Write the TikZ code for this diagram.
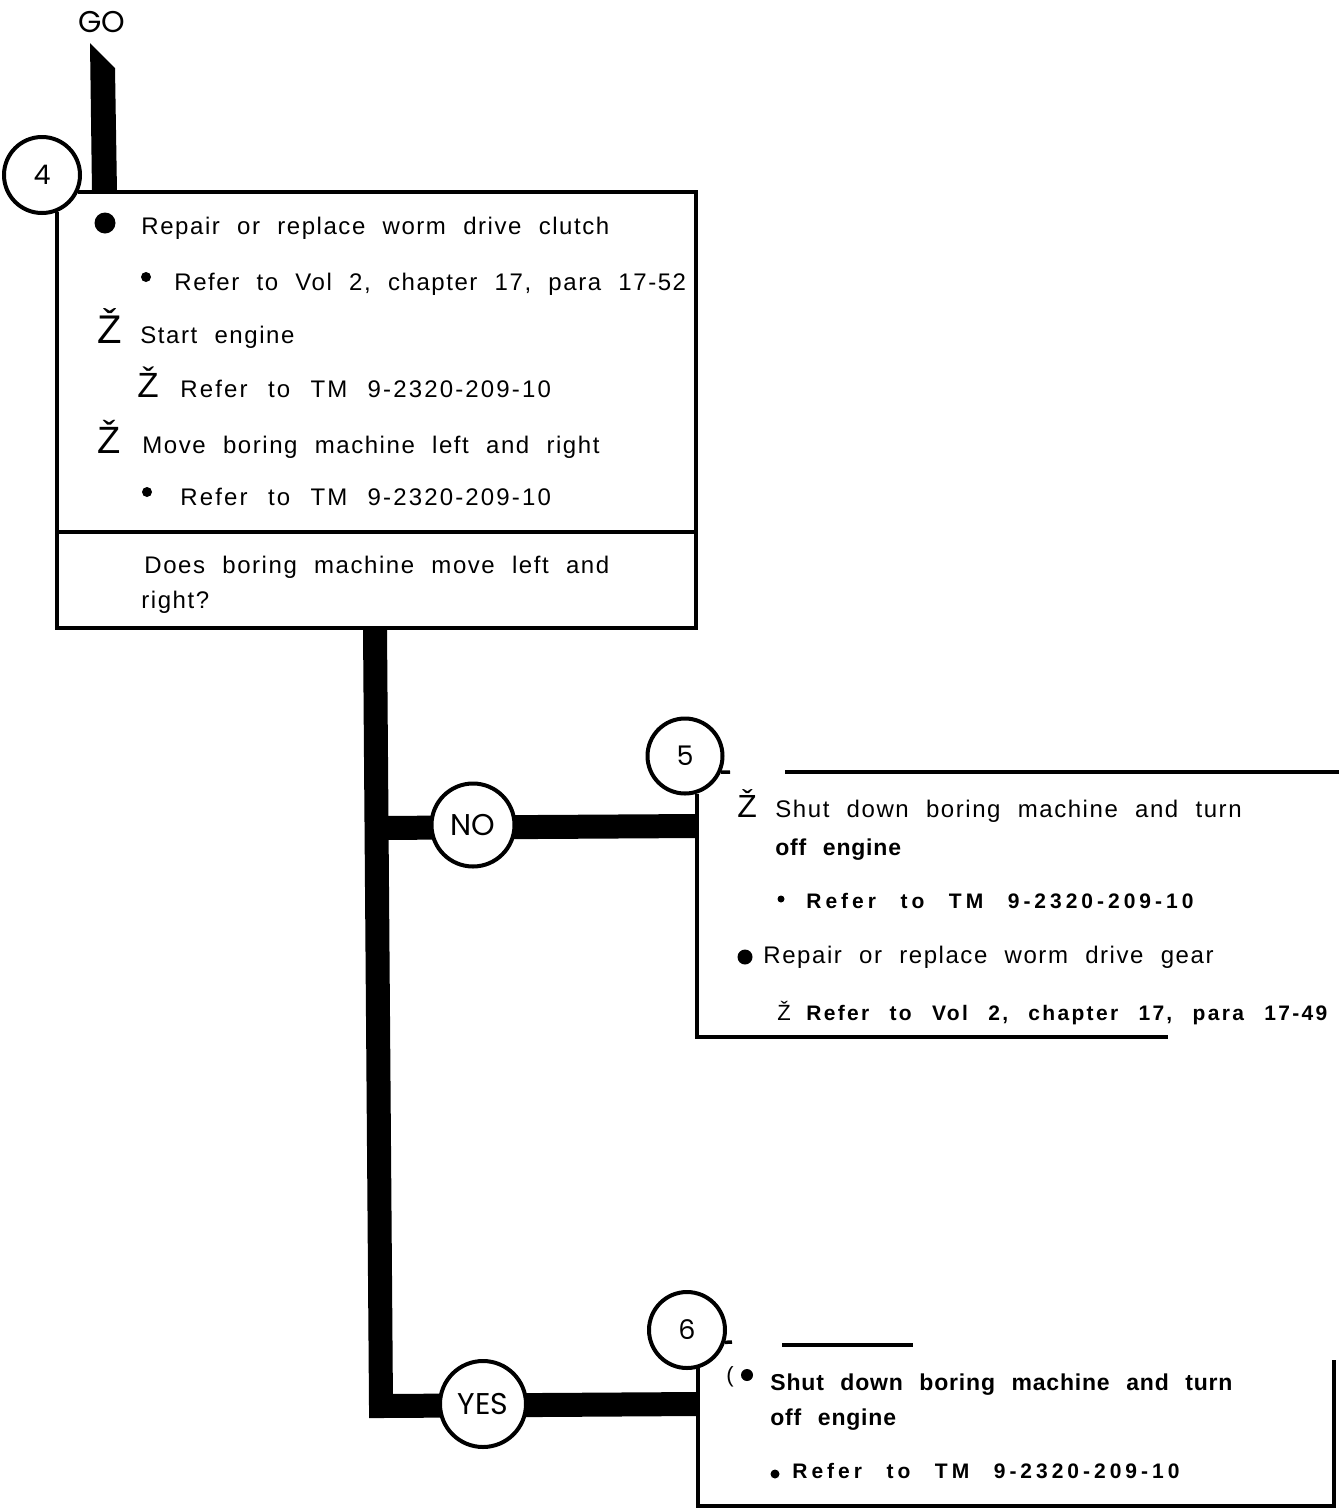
\documentclass[tikz,border=0pt]{standalone}
\usepackage{fontspec}
\setmainfont{Liberation Sans}
\newfontfamily\gofont{Poppins}
\newfontfamily\stepfont[LetterSpace=6.5,WordSpace=2.1]{Liberation Sans}
\newfontfamily\widefont[LetterSpace=9,WordSpace=2.3]{Liberation Sans}
\newfontfamily\shutfont[LetterSpace=3.5,WordSpace=2.3]{Liberation Sans}
\newfontfamily\reffont[LetterSpace=11,WordSpace=2.5]{Liberation Sans}
\newfontfamily\tmfont[LetterSpace=19,WordSpace=2.5]{Liberation Sans}
\usetikzlibrary{positioning}

\tikzset{
  flow/.style={line width=12pt},
  frame/.style={line width=1.75pt},
  stepnum/.style={circle,draw,fill=white,line width=2pt,inner sep=0pt,minimum size=38pt,
    font=\gofont\fontsize{13.5}{13.5}\selectfont},
  answer/.style={circle,draw,fill=white,line width=2pt,inner sep=0pt,minimum size=42pt,
    font=\gofont\fontsize{15}{15}\selectfont},
  txt/.style={anchor=base west,inner sep=0pt,font=\stepfont\fontsize{12}{14}\selectfont},
  widetxt/.style={txt,font=\widefont\fontsize{12}{14}\selectfont},
  shut/.style={txt,font=\shutfont\bfseries\fontsize{11.5}{14}\selectfont},
  ref/.style={txt,font=\reffont\bfseries\fontsize{10.5}{14}\selectfont},
  tm/.style={txt,font=\tmfont\bfseries\fontsize{10.5}{14}\selectfont},
  zmark/.style={anchor=base west,inner sep=0pt,font=\fontsize{#1}{#1}\selectfont},
  dot/.style={circle,fill,inner sep=0pt,minimum size=#1},
}

\begin{document}
\begin{tikzpicture}[x=0.5pt,y=-0.5pt]
\useasboundingbox (0,0) rectangle (1339,1510);

% thick flow lines
\coordinate (trunktop) at (375,628);
\coordinate (trunkbend) at (381,1406);
\coordinate (nojoin) at (375,828);
\coordinate (noend) at (697,826);
\coordinate (yesend) at (698,1404);
\fill (90,43) -- (115,68) -- (117,192) -- (92,192) -- cycle;
\draw[flow] (trunktop) -- (trunkbend) -- (yesend);
\draw[flow] (nojoin) -- (noend);

\node[font=\gofont\fontsize{15}{15}\selectfont] (go) at (102,22) {GO};
\node[stepnum] (c4) at (42,175) {4};
\node[answer,minimum size=41.5pt] (no) at (473,825) {NO};
\node[stepnum,minimum size=37.5pt] (c5) at (685,756) {5};
\node[answer,minimum size=43pt] (yes) at (483,1404) {YES};
\node[stepnum] (c6) at (687,1330) {6};

% box 4
\draw[frame] (c4.-25) -| (696,628) -| (c4.-68);
\draw[frame] (57,532) -- (696,532);
\node[dot=10.5pt] (b41) at (105,223) {};
\node[txt] (t41) at (141,234) {Repair or replace worm drive clutch};
\node[dot=5pt] (b42) at (146,277) {};
\node[txt] (t42) at (174,290) {Refer to Vol 2, chapter 17, para 17-52};
\node[zmark=20] (z43) at (97,343) {Ž};
\node[txt] (t43) at (140,343) {Start engine};
\node[zmark=17.5] (z44) at (137,397) {Ž};
\node[widetxt] (t44) at (180,397) {Refer to TM 9-2320-209-10};
\node[zmark=19] (z45) at (97,453) {Ž};
\node[txt] (t45) at (142,453) {Move boring machine left and right};
\node[dot=5pt] (b46) at (147,492) {};
\node[widetxt] (t46) at (180,505) {Refer to TM 9-2320-209-10};
\node[txt] (q4a) at (144,573) {Does boring machine move left and};
\node[txt] (q4b) at (141,608) {right?};

% box 5
\draw[frame] (c5.-72) |- (1168,1037);
\draw[frame] (785,772) -- (1339,772);
\draw[frame] (c5.-24) -- (730,772);
\node[zmark=16] (z51) at (737,817) {Ž};
\node[txt] (t51) at (775,817) {Shut down boring machine and turn};
\node[shut] (t51b) at (775,855) {off engine};
\node[dot=3.5pt] (b52) at (781,899) {};
\node[tm] (t52) at (806,908) {Refer to TM 9-2320-209-10};
\node[dot=7.5pt] (b53) at (745,957) {};
\node[txt] (t53) at (763,963) {Repair or replace worm drive gear};
\node[zmark=11] (z54) at (777,1020) {Ž};
\node[ref] (t54) at (806,1020) {Refer to Vol 2, chapter 17, para 17-49};

% box 6
\draw[frame] (c6.-74) |- (1334,1506) -- (1334,1360);
\draw[frame] (782,1345) -- (913,1345);
\draw[frame] (c6.-18) -- (732,1342);
\node[zmark=11] (p61) at (726,1382) {(};
\node[dot=6pt] (b61) at (747,1375) {};
\node[shut] (t61) at (770,1390) {Shut down boring machine and turn};
\node[shut] (t61b) at (770,1425) {off engine};
\node[dot=4.5pt] (b62) at (775,1474) {};
\node[tm] (t62) at (792,1478) {Refer to TM 9-2320-209-10};
\end{tikzpicture}
\end{document}
